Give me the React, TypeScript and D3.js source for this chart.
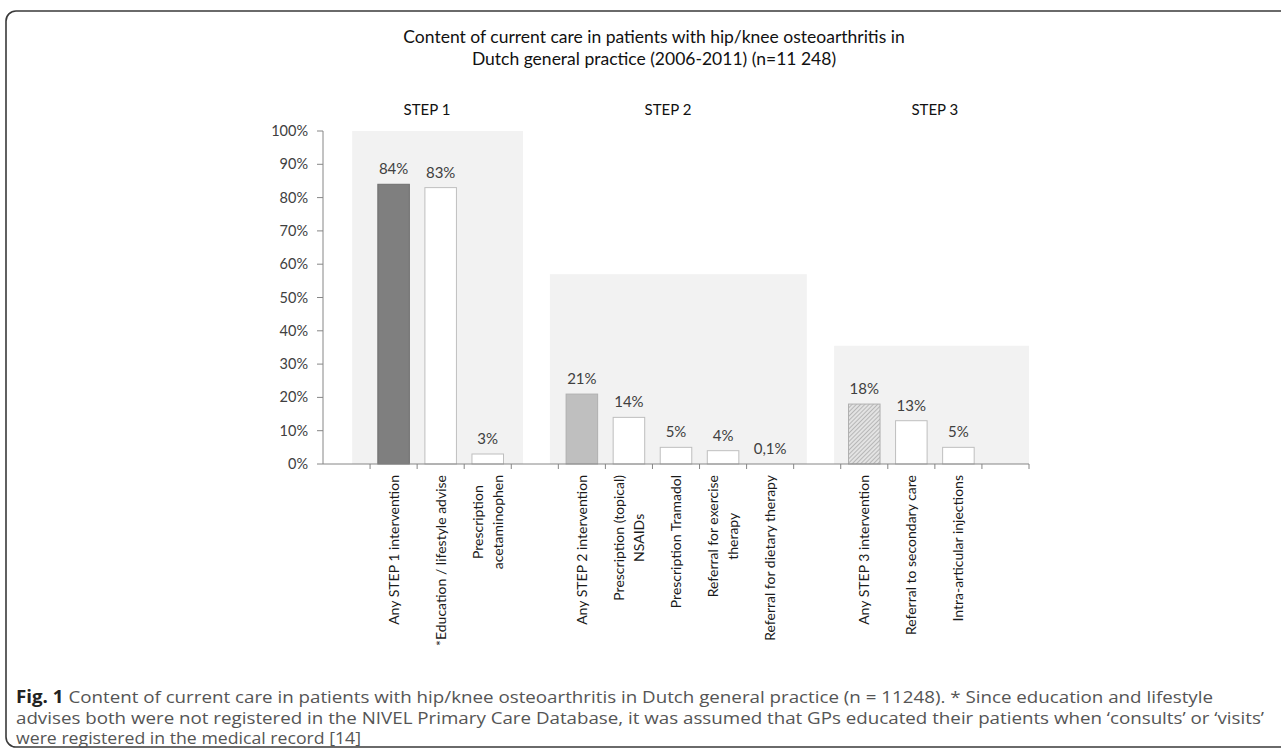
import * as d3 from 'd3';

const titleLines = [
  'Content of current care in patients with hip/knee osteoarthritis in',
  'Dutch general practice (2006-2011) (n=11 248)',
];

const steps = ['STEP 1', 'STEP 2', 'STEP 3'];
const stepPanelTop = [1.0, 0.57, 0.355];

const step1Items = ['Any STEP 1 intervention', '*Education / lifestyle advise', 'Prescription\nacetaminophen'];
const step1Values = [84, 83, 3];
const step2Items = [
  'Any STEP 2 intervention',
  'Prescription (topical)\nNSAIDs',
  'Prescription Tramadol',
  'Referral for exercise\ntherapy',
  'Referral for dietary therapy',
];
const step2Values = [21, 14, 5, 4, 0.1];
const step3Items = ['Any STEP 3 intervention', 'Referral to secondary care', 'Intra-articular injections'];
const step3Values = [18, 13, 5];

const yTicks = [0, 10, 20, 30, 40, 50, 60, 70, 80, 90, 100];

const captionBold = 'Fig. 1';
const captionLines = [
  ' Content of current care in patients with hip/knee osteoarthritis in Dutch general practice (n = 11248). * Since education and lifestyle',
  'advises both were not registered in the NIVEL Primary Care Database, it was assumed that GPs educated their patients when \u2018consults\u2019 or \u2018visits\u2019',
  'were registered in the medical record [14]',
];

// layout
const W = 1281;
const H = 751;
const plot = { left: 323, right: 1029, top: 131, bottom: 464 };
const textColor = '#404040';
const axisColor = '#868686';
const chartFont = 'Lato, "Open Sans", sans-serif';
const stepFills = ['#7f7f7f', '#bfbfbf', 'url(#hatch)'];
// panel spans and step-label positions, in slot units
const panelSpan = [[0.62, 4.25], [4.82, 10.28], [10.86, 15]];
const stepLabelAt = [2.21, 7.33, 13.0];
const captionLens = [1197, 1248, 345];

type Slot = { id: string; label: string; value: number | null; step: number; first: boolean };

const slots: Slot[] = [];
const groups = [
  [step1Items, step1Values],
  [step2Items, step2Values],
  [step3Items, step3Values],
] as [string[], number[]][];
groups.forEach(([items, vals], s) => {
  slots.push({ id: `gap${s}`, label: '', value: null, step: s, first: false });
  items.forEach((it, i) => slots.push({ id: `s${s}-${i}`, label: it, value: vals[i], step: s, first: i === 0 }));
});
slots.push({ id: 'gap3', label: '', value: null, step: 2, first: false });

const measure = (() => {
  const ctx = document.createElement('canvas').getContext('2d');
  return (t: string) => {
    if (!ctx) return t.length * 6.6;
    ctx.font = '14px Lato';
    return ctx.measureText(t).width;
  };
})();

const fmt = (v: number) => (v >= 1 ? `${v}%` : `${String(v).replace('.', ',')}%`);

const App = () => {
  const x = d3.scaleBand<string>()
    .domain(slots.map((d) => d.id))
    .range([plot.left, plot.right])
    .paddingInner(0.33)
    .paddingOuter(0.165);
  const step = x.step();
  const slotX = (u: number) => plot.left + u * step;

  const y = d3.scaleLinear().domain([0, 100]).range([plot.bottom, plot.top]);

  return (
    <svg width={W} height={H} style={{ position: 'fixed', left: 0, top: 0, background: '#fff' }}>
      <defs>
        <pattern id="hatch" width={3} height={3} patternUnits="userSpaceOnUse" patternTransform="rotate(45)">
          <rect width={3} height={3} fill="#e3e3e3" />
          <line x1={0} y1={0} x2={0} y2={3} stroke="#9a9a9a" strokeWidth={1.2} />
        </pattern>
      </defs>

      <rect x={6} y={11} width={W + 20} height={736} rx={10} fill="none" stroke="#3a3a3a" strokeWidth={1.6} />

      {titleLines.map((t, i) => (
        <text key={t} x={654} y={43 + i * 22} textAnchor="middle" fontFamily={chartFont} fontSize={17.5} fill="#111">
          {t}
        </text>
      ))}

      {steps.map((s, i) => (
        <g key={s}>
          <rect
            x={slotX(panelSpan[i][0])}
            y={y(stepPanelTop[i] * 100)}
            width={slotX(panelSpan[i][1]) - slotX(panelSpan[i][0])}
            height={plot.bottom - y(stepPanelTop[i] * 100)}
            fill="#f2f2f2"
          />
          <text x={slotX(stepLabelAt[i])} y={115} textAnchor="middle" fontFamily={chartFont} fontSize={15} fill="#111">
            {s}
          </text>
        </g>
      ))}

      {/* y axis */}
      <line x1={plot.left} x2={plot.left} y1={plot.top} y2={plot.bottom} stroke={axisColor} />
      {yTicks.map((t) => (
        <g key={t}>
          <line x1={plot.left - 6} x2={plot.left} y1={y(t)} y2={y(t)} stroke={axisColor} />
          <text x={308} y={y(t)} dy="0.35em" textAnchor="end" fontFamily={chartFont} fontSize={14.5} fill={textColor}>
            {t}%
          </text>
        </g>
      ))}

      {/* bars */}
      {slots.filter((d) => d.value !== null).map((d) => {
        const v = d.value as number;
        const fill = d.first ? stepFills[d.step] : '#ffffff';
        const stroke = d.first ? (d.step === 0 ? '#6f6f6f' : '#b0b0b0') : '#bfbfbf';
        const bx = x(d.id) as number;
        return (
          <g key={d.id}>
            {v >= 1 && (
              <rect x={bx} y={y(v)} width={x.bandwidth()} height={plot.bottom - y(v)} fill={fill} stroke={stroke} strokeWidth={1} />
            )}
            <text
              x={bx + x.bandwidth() / 2}
              y={y(v) - 10}
              textAnchor="middle"
              fontFamily={chartFont}
              fontSize={15}
              fill={textColor}
            >
              {fmt(v)}
            </text>
          </g>
        );
      })}

      {/* x axis */}
      <line x1={plot.left} x2={plot.right} y1={plot.bottom} y2={plot.bottom} stroke={axisColor} />
      {d3.range(1, slots.length + 1).map((i) => (
        <line key={i} x1={slotX(i)} x2={slotX(i)} y1={plot.bottom} y2={plot.bottom + 5} stroke={axisColor} />
      ))}
      {slots.filter((d) => d.label).map((d) => {
        const lines = d.label.split('\n');
        const widths = lines.map(measure);
        const maxW = Math.max(...widths);
        const cx = (x(d.id) as number) + x.bandwidth() / 2;
        const lh = 20;
        return (
          <g key={d.id} transform={`translate(${cx},${plot.bottom + 11}) rotate(-90)`}>
            {lines.map((ln, j) => {
              const dyLine = (j - (lines.length - 1) / 2) * lh;
              const longest = widths[j] === maxW;
              return (
                <text
                  key={j}
                  x={longest ? 0 : -maxW / 2}
                  y={dyLine}
                  dy="0.35em"
                  textAnchor={longest ? 'end' : 'middle'}
                  fontFamily={chartFont}
                  fontSize={14}
                  fill="#1a1a1a"
                >
                  {ln}
                </text>
              );
            })}
          </g>
        );
      })}

      {/* caption */}
      {captionLines.map((ln, i) => (
        <text
          key={i}
          x={16}
          y={703 + i * 20.5}
          fontFamily='"Open Sans", sans-serif'
          fontSize={17}
          fill="#555"
          textLength={captionLens[i]}
          lengthAdjust="spacingAndGlyphs"
        >
          {i === 0 && (
            <tspan fontWeight="bold" fill="#222">{captionBold}</tspan>
          )}
          {ln}
        </text>
      ))}
    </svg>
  );
};

export default App;
